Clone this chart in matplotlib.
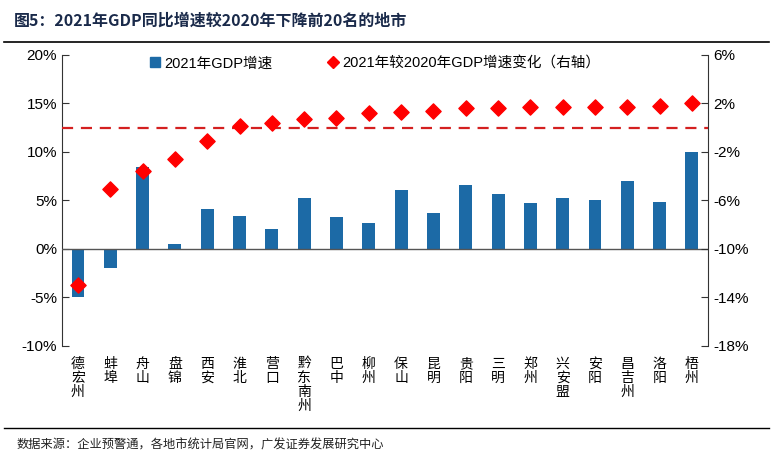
import matplotlib
matplotlib.use("Agg")
import matplotlib.pyplot as plt
from matplotlib.lines import Line2D
from matplotlib.patches import Patch

plt.rcParams['font.family'] = ['Liberation Sans', 'Noto Sans CJK SC', 'DejaVu Sans']
plt.rcParams['axes.unicode_minus'] = False

cities = ["德宏州", "蚌埠", "舟山", "盘锦", "西安", "淮北", "营口", "黔东南州", "巴中", "柳州",
          "保山", "昆明", "贵阳", "三明", "郑州", "兴安盟", "安阳", "昌吉州", "洛阳", "梧州"]
gdp_2021 = [-5.0, -2.0, 8.4, 0.5, 4.1, 3.4, 2.0, 5.2, 3.3, 2.7,
            6.1, 3.7, 6.6, 5.7, 4.7, 5.2, 5.0, 7.0, 4.8, 10.0]
change_vs_2020 = [-13.0, -5.1, -3.6, -2.6, -1.1, 0.1, 0.4, 0.7, 0.8, 1.2,
                  1.3, 1.4, 1.6, 1.6, 1.7, 1.7, 1.7, 1.7, 1.8, 2.0]
left_ticks = [20, 15, 10, 5, 0, -5, -10]
right_ticks = [6, 2, -2, -6, -10, -14, -18]

bar_color = "#1c6aa6"
dia_color = "#ff0000"

fig = plt.figure(figsize=(7.73, 4.66), dpi=100)
ax = fig.add_axes([0.080, 0.258, 0.836, 0.624])
x = list(range(len(cities)))
ax.bar(x, gdp_2021, width=0.4, color=bar_color, zorder=2)
ax.axhline(0, color="#555555", lw=1.0, zorder=3)
ax.set_xlim(-0.5, len(cities) - 0.5)
ax.set_ylim(-10, 20)
ax.set_yticks(left_ticks)
ax.set_yticklabels([f"{t}%" for t in left_ticks], fontsize=11)
ax.set_xticks(x)
ax.set_xticklabels(["\n".join(c) for c in cities], fontsize=10,
                   family=['Noto Sans CJK SC'], linespacing=1.0, va='top')
ax.tick_params(axis='x', length=0, pad=8)
ax.tick_params(axis='y', direction='in', length=5, color="#333333")
for s in ['top', 'bottom', 'right']:
    ax.spines[s].set_visible(False)
ax.spines['left'].set_color("#333333")

ax2 = ax.twinx()
ax2.set_ylim(-18, 6)
ax2.scatter(x, change_vs_2020, marker='D', s=60, color=dia_color, zorder=4)
ax2.axhline(0, color="#d42020", lw=1.6, ls=(0, (5, 3.5)), zorder=3)
ax2.set_yticks(right_ticks)
ax2.set_yticklabels([f"{t}%" for t in right_ticks], fontsize=11)
ax2.tick_params(axis='y', direction='in', length=5, color="#333333")
for s in ['top', 'bottom', 'left']:
    ax2.spines[s].set_visible(False)
ax2.spines['right'].set_color("#333333")

handles = [Patch(color=bar_color, label="2021年GDP增速"),
           Line2D([], [], marker='D', ls='none', color=dia_color, markersize=6,
                  label="2021年较2020年GDP增速变化（右轴）")]
ax.legend(handles=handles, loc='upper center', bbox_to_anchor=(0.485, 1.04), ncol=2,
          frameon=False, handlelength=0.7, handletextpad=0.3,
          columnspacing=3.8, prop={'family': ['Liberation Sans', 'Noto Sans CJK SC'], 'size': 10.5})

fig.text(0.018, 0.955, "图5：2021年GDP同比增速较2020年下降前20名的地市", fontsize=11.5,
         fontweight='bold', color="#1a2a4a", va='center', family=['Noto Sans CJK SC'])
fig.add_artist(Line2D([0.005, 0.995], [0.91, 0.91], color='black', lw=1.2))
fig.add_artist(Line2D([0.005, 0.995], [0.082, 0.082], color='black', lw=1.0))
fig.text(0.022, 0.045, "数据来源：企业预警通，各地市统计局官网，广发证券发展研究中心", fontsize=8.8,
         color="#222222", va='center', family=['Noto Sans CJK SC'])

fig.savefig("out.png", dpi=100)
